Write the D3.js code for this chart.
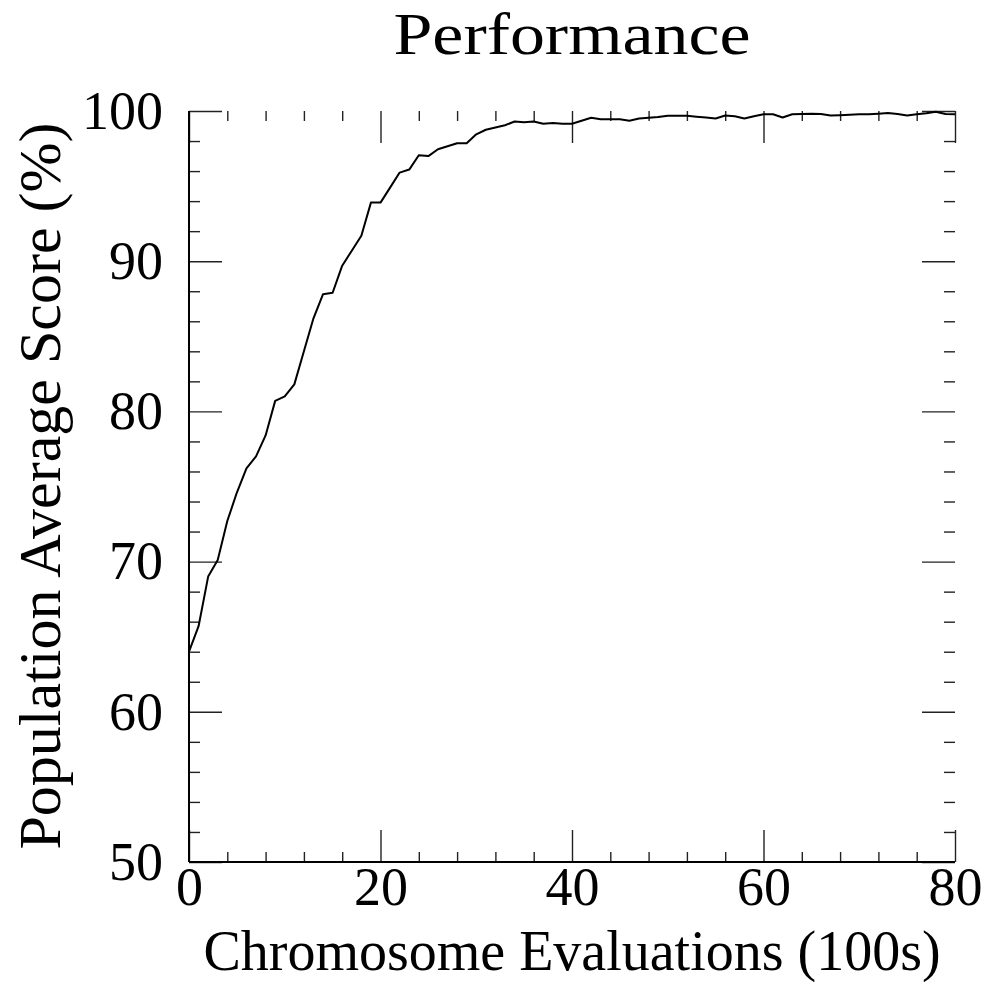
<!DOCTYPE html>
<html>
<head>
<meta charset="utf-8">
<script src="https://cdn.jsdelivr.net/npm/d3@7"></script>
<style>
  body { margin: 0; background: #fff; }
  text { font-family: "Liberation Serif", "Times New Roman", serif; fill: #000; }
</style>
</head>
<body>
<script>
var width = 990,
    height = 982;

// evaluations (100s) and population average score (%)
var evals = [0, 1, 2, 3, 4, 5, 6, 7, 8, 9, 10, 11, 12, 13, 14, 15, 16, 17, 18, 19, 20,
    21, 22, 23, 24, 25, 26, 27, 28, 29, 30, 31, 32, 33, 34, 35, 36, 37, 38, 39, 40,
    41, 42, 43, 44, 45, 46, 47, 48, 49, 50, 51, 52, 53, 54, 55, 56, 57, 58, 59, 60,
    61, 62, 63, 64, 65, 66, 67, 68, 69, 70, 71, 72, 73, 74, 75, 76, 77, 78, 79, 80];
var scores = [64.0, 65.7, 69.0, 70.1, 72.7, 74.6, 76.2, 77.0, 78.4, 80.7, 81.0,
    81.8, 84.0, 86.2, 87.8, 87.9, 89.7, 90.7, 91.7, 93.9, 93.9,
    94.9, 95.9, 96.1, 97.05, 97.0, 97.45, 97.65, 97.85, 97.85, 98.45,
    98.75, 98.9, 99.05, 99.3, 99.25, 99.3, 99.15, 99.2, 99.15, 99.15,
    99.35, 99.55, 99.45, 99.45, 99.45, 99.35, 99.5, 99.55, 99.6, 99.68,
    99.68, 99.68, 99.62, 99.56, 99.5, 99.7, 99.65, 99.5, 99.65, 99.78,
    99.78, 99.57, 99.78, 99.8, 99.82, 99.8, 99.7, 99.72, 99.75, 99.78,
    99.78, 99.82, 99.87, 99.8, 99.7, 99.78, 99.85, 99.95, 99.8, 99.78];

var xMajor = [0, 20, 40, 60, 80],
    xMinor = [4, 8, 12, 16, 24, 28, 32, 36, 44, 48, 52, 56, 64, 68, 72, 76],
    yMajor = [50, 60, 70, 80, 90, 100],
    yMinor = [52, 54, 56, 58, 62, 64, 66, 68, 72, 74, 76, 78, 82, 84, 86, 88, 92, 94, 96, 98];

var x = d3.scaleLinear().domain([0, 80]).range([189, 955]);
var y = d3.scaleLinear().domain([50, 100]).range([862, 111]);

var svg = d3.select("body").append("svg")
    .attr("width", width)
    .attr("height", height);

function styleTicks(g, big) {
    g.select(".domain").remove();
    g.selectAll(".tick line").attr("stroke", "#222").attr("stroke-width", 1.4);
    g.selectAll(".tick text").style("font-size", big ? "54px" : "0px");
}

// left
svg.append("g").attr("transform", "translate(189,0)")
    .call(d3.axisLeft(y).tickValues(yMajor).tickSize(-33).tickPadding(26))
    .call(styleTicks, true);
svg.append("g").attr("transform", "translate(189,0)")
    .call(d3.axisLeft(y).tickValues(yMinor).tickSize(-11).tickFormat(""))
    .call(styleTicks, false);
// right
svg.append("g").attr("transform", "translate(955,0)")
    .call(d3.axisRight(y).tickValues(yMajor).tickSize(-33).tickFormat(""))
    .call(styleTicks, false);
svg.append("g").attr("transform", "translate(955,0)")
    .call(d3.axisRight(y).tickValues(yMinor).tickSize(-11).tickFormat(""))
    .call(styleTicks, false);
// bottom
svg.append("g").attr("transform", "translate(0,862)")
    .call(d3.axisBottom(x).tickValues(xMajor).tickSize(-32).tickPadding(5))
    .call(styleTicks, true);
svg.append("g").attr("transform", "translate(0,862)")
    .call(d3.axisBottom(x).tickValues(xMinor).tickSize(-10).tickFormat(""))
    .call(styleTicks, false);
// top
svg.append("g").attr("transform", "translate(0,111)")
    .call(d3.axisTop(x).tickValues(xMajor).tickSize(-32).tickFormat(""))
    .call(styleTicks, false);
svg.append("g").attr("transform", "translate(0,111)")
    .call(d3.axisTop(x).tickValues(xMinor).tickSize(-10).tickFormat(""))
    .call(styleTicks, false);

// axis lines, left and bottom only
svg.append("line")
    .attr("x1", x(0)).attr("x2", x(0))
    .attr("y1", y(100)).attr("y2", y(50))
    .attr("stroke", "#000").attr("stroke-width", 2);
svg.append("line")
    .attr("x1", x(0)).attr("x2", x(80))
    .attr("y1", y(50)).attr("y2", y(50))
    .attr("stroke", "#000").attr("stroke-width", 2);

var line = d3.line()
    .x(function(d, i) { return x(evals[i]); })
    .y(function(d) { return y(d); });

svg.append("path")
    .datum(scores)
    .attr("d", line)
    .attr("fill", "none")
    .attr("stroke", "#000")
    .attr("stroke-width", 2)
    .attr("stroke-linejoin", "round");

svg.append("text")
    .attr("x", 572).attr("y", 54)
    .attr("text-anchor", "middle")
    .style("font-size", "60px")
    .attr("textLength", 357)
    .attr("lengthAdjust", "spacingAndGlyphs")
    .text("Performance");

svg.append("text")
    .attr("x", 572).attr("y", 970)
    .attr("text-anchor", "middle")
    .style("font-size", "56px")
    .text("Chromosome Evaluations (100s)");

svg.append("text")
    .attr("transform", "translate(60,486) rotate(-90)")
    .attr("text-anchor", "middle")
    .style("font-size", "60px")
    .text("Population Average Score (%)");
</script>
</body>
</html>
